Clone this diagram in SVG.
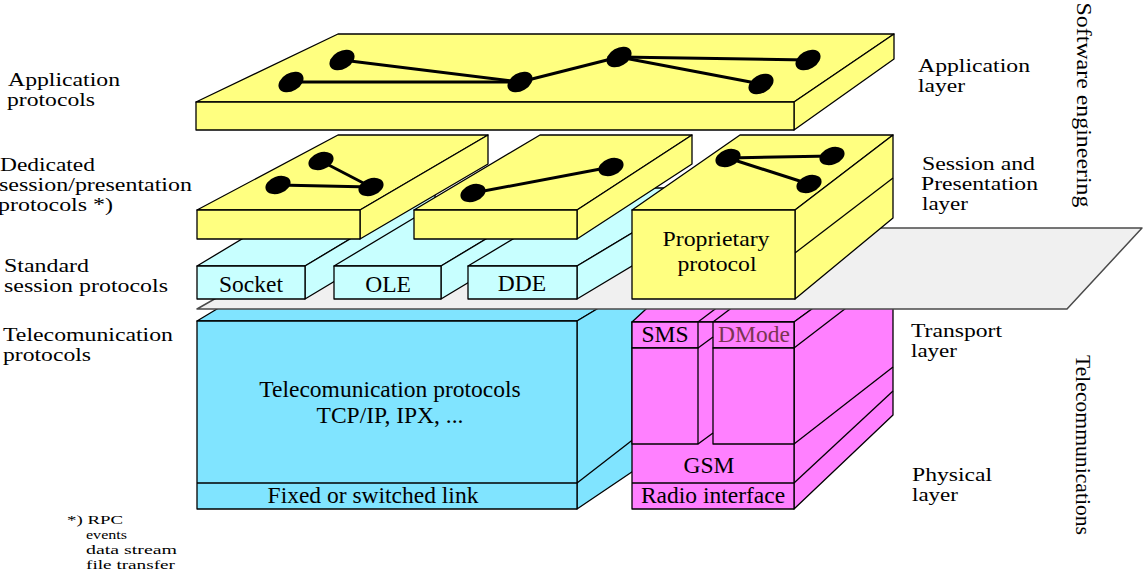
<svg xmlns="http://www.w3.org/2000/svg" width="1145" height="574" viewBox="0 0 1145 574">
<style>
.t{font-family:"Liberation Serif","Times New Roman",serif;fill:#000}
.box{font-size:23.5px;text-anchor:middle}
.prop{font-size:22px;text-anchor:middle}
.lbl{font-size:18px}
.fn{font-size:13.5px}
.vert{font-size:22px;text-anchor:middle}
.e{stroke:#000;stroke-width:1.3;stroke-linejoin:round}
.y{fill:#FFFF80}
.c{fill:#C8FFFF}
.b{fill:#80E4FF}
.m{fill:#FF80FF}
.g{fill:#F0F0F0;stroke:#4a4a4a;stroke-width:1.5;stroke-linejoin:round}
.ln{stroke:#000;stroke-width:1.3;fill:none}
.link{stroke:#000;stroke-width:3;fill:none}
.dot{fill:#000}
</style>
<rect width="1145" height="574" fill="#fff"/>

<g id="telecom-box">
  <polygon class="b e" points="197,321 317,249 697,249 577,321"/>
  <polygon class="b e" points="577,321 697,249 697,428 577,509"/>
  <rect class="b e" x="197" y="321" width="380" height="188"/>
  <line class="ln" x1="197" y1="483" x2="577" y2="483"/>
  <line class="ln" x1="577" y1="483" x2="697" y2="390"/>
  <text class="t box" x="390" y="397">Telecomunication protocols</text>
  <text class="t box" x="390" y="423">TCP/IP, IPX, ...</text>
  <text class="t box" x="373" y="503">Fixed or switched link</text>
</g>

<g id="gsm-box">
  <polygon class="m e" points="632,322 710,250 893,250 794,322"/>
  <line class="ln" x1="698" y1="322" x2="760" y2="275"/>
  <line class="ln" x1="713" y1="322" x2="775" y2="275"/>
  <polygon class="m e" points="794,322 893,250 893,415 794,509"/>
  <line class="ln" x1="794" y1="348" x2="893" y2="272"/>
  <line class="ln" x1="794" y1="444" x2="893" y2="367"/>
  <line class="ln" x1="794" y1="483" x2="893" y2="391"/>
  <rect class="m e" x="632" y="322" width="162" height="187"/>
  <rect class="m e" x="632" y="322" width="66" height="26"/>
  <rect class="m e" x="632" y="348" width="66" height="96"/>
  <rect class="m e" x="713" y="322" width="81" height="26"/>
  <rect class="m e" x="713" y="348" width="81" height="96"/>
  <line class="ln" x1="698" y1="348" x2="713" y2="337"/>
  <line class="ln" x1="698" y1="444" x2="713" y2="433"/>
  <line class="ln" x1="632" y1="483" x2="794" y2="483"/>
  <text class="t box" x="665" y="342">SMS</text>
  <text class="t box" x="754" y="342" style="fill:#7a3452">DMode</text>
  <text class="t box" x="709" y="473">GSM</text>
  <text class="t box" x="713" y="503">Radio interface</text>
</g>

<g id="grey-plane">
  <polygon class="g" points="197,309 339,228 1142,228 1067,309"/>
</g>

<g id="socket">
  <polygon class="c e" points="197,266 327,188 435,188 305,266"/>
  <polygon class="c e" points="305,266 435,188 435,221 305,299"/>
  <rect class="c e" x="197" y="266" width="108" height="33"/>
  <text class="t box" x="251" y="292">Socket</text>
</g>
<g id="ole">
  <polygon class="c e" points="334,266 464,188 571,188 441,266"/>
  <polygon class="c e" points="441,266 571,188 571,221 441,299"/>
  <rect class="c e" x="334" y="266" width="107" height="33"/>
  <text class="t box" x="388" y="292">OLE</text>
</g>
<g id="dde">
  <polygon class="c e" points="468,266 598,188 707,188 577,266"/>
  <polygon class="c e" points="577,266 707,188 707,221 577,299"/>
  <rect class="c e" x="468" y="266" width="109" height="33"/>
  <text class="t box" x="522" y="291">DDE</text>
</g>

<g id="application-slab">
  <polygon class="y e" points="196,102 338,34 894,34 794,102"/>
  <polygon class="y e" points="794,102 894,34 894,59 794,130"/>
  <rect class="y e" x="196" y="102" width="598" height="28"/>
</g>
<g id="dedicated-slab-1">
  <polygon class="y e" points="197,210 338,135 488,135 360,210"/>
  <polygon class="y e" points="360,210 488,135 488,164 360,239"/>
  <rect class="y e" x="197" y="210" width="163" height="29"/>
</g>
<g id="dedicated-slab-2">
  <polygon class="y e" points="414,210 540,135 692,135 577,210"/>
  <polygon class="y e" points="577,210 692,135 692,164 577,239"/>
  <rect class="y e" x="414" y="210" width="163" height="29"/>
</g>
<g id="proprietary">
  <polygon class="y e" points="632,210 740,135 893,135 795,210"/>
  <polygon class="y e" points="795,210 893,135 893,218 795,299"/>
  <line class="ln" x1="795" y1="253" x2="893" y2="178"/>
  <rect class="y e" x="632" y="210" width="163" height="89"/>
  <text class="t prop" x="716" y="246" textLength="107" lengthAdjust="spacingAndGlyphs">Proprietary</text>
  <text class="t prop" x="717" y="271" textLength="79" lengthAdjust="spacingAndGlyphs">protocol</text>
</g>

<g id="connectors">
  <line class="link" x1="342" y1="60" x2="520" y2="82"/>
  <line class="link" x1="291" y1="82" x2="520" y2="82"/>
  <line class="link" x1="520" y1="82" x2="619" y2="57"/>
  <line class="link" x1="619" y1="57" x2="808" y2="60"/>
  <line class="link" x1="619" y1="57" x2="761" y2="84"/>
  <line class="link" x1="321" y1="161" x2="371" y2="187"/>
  <line class="link" x1="278" y1="185" x2="371" y2="187"/>
  <line class="link" x1="473" y1="193" x2="611" y2="167"/>
  <line class="link" x1="728" y1="158" x2="832" y2="156"/>
  <line class="link" x1="728" y1="158" x2="809" y2="184"/>
</g>

<g id="dots">
  <ellipse class="dot" cx="342" cy="60" rx="13.5" ry="9" transform="rotate(-30 342 60)"/>
  <ellipse class="dot" cx="291" cy="82" rx="13.5" ry="9" transform="rotate(-30 291 82)"/>
  <ellipse class="dot" cx="520" cy="82" rx="13.5" ry="9" transform="rotate(-30 520 82)"/>
  <ellipse class="dot" cx="619" cy="57" rx="13.5" ry="9" transform="rotate(-30 619 57)"/>
  <ellipse class="dot" cx="808" cy="60" rx="13.5" ry="9" transform="rotate(-30 808 60)"/>
  <ellipse class="dot" cx="761" cy="84" rx="13.5" ry="9" transform="rotate(-30 761 84)"/>
  <ellipse class="dot" cx="321" cy="161" rx="13" ry="8.5" transform="rotate(-20 321 161)"/>
  <ellipse class="dot" cx="278" cy="185" rx="13" ry="8.5" transform="rotate(-20 278 185)"/>
  <ellipse class="dot" cx="371" cy="187" rx="13" ry="8.5" transform="rotate(-20 371 187)"/>
  <ellipse class="dot" cx="473" cy="193" rx="13" ry="8.5" transform="rotate(-20 473 193)"/>
  <ellipse class="dot" cx="611" cy="167" rx="13" ry="8.5" transform="rotate(-20 611 167)"/>
  <ellipse class="dot" cx="728" cy="158" rx="13" ry="8.5" transform="rotate(-20 728 158)"/>
  <ellipse class="dot" cx="832" cy="156" rx="13" ry="8.5" transform="rotate(-20 832 156)"/>
  <ellipse class="dot" cx="809" cy="184" rx="13" ry="8.5" transform="rotate(-20 809 184)"/>
</g>

<g id="left-labels">
  <text class="t lbl" x="8" y="86" textLength="112" lengthAdjust="spacingAndGlyphs">Application</text>
  <text class="t lbl" x="7" y="106" textLength="88" lengthAdjust="spacingAndGlyphs">protocols</text>
  <text class="t lbl" x="0" y="171" textLength="95" lengthAdjust="spacingAndGlyphs">Dedicated</text>
  <text class="t lbl" x="-1" y="191" textLength="193" lengthAdjust="spacingAndGlyphs">session/presentation</text>
  <text class="t lbl" x="-2" y="211" textLength="115" lengthAdjust="spacingAndGlyphs">protocols *)</text>
  <text class="t lbl" x="4" y="272" textLength="85" lengthAdjust="spacingAndGlyphs">Standard</text>
  <text class="t lbl" x="4" y="292" textLength="164" lengthAdjust="spacingAndGlyphs">session protocols</text>
  <text class="t lbl" x="3" y="341" textLength="170" lengthAdjust="spacingAndGlyphs">Telecomunication</text>
  <text class="t lbl" x="3" y="361" textLength="88" lengthAdjust="spacingAndGlyphs">protocols</text>
</g>

<g id="right-labels">
  <text class="t lbl" x="918" y="72" textLength="112" lengthAdjust="spacingAndGlyphs">Application</text>
  <text class="t lbl" x="918" y="92" textLength="47" lengthAdjust="spacingAndGlyphs">layer</text>
  <text class="t lbl" x="922" y="170" textLength="113" lengthAdjust="spacingAndGlyphs">Session and</text>
  <text class="t lbl" x="921" y="190" textLength="117" lengthAdjust="spacingAndGlyphs">Presentation</text>
  <text class="t lbl" x="922" y="210" textLength="46" lengthAdjust="spacingAndGlyphs">layer</text>
  <text class="t lbl" x="911" y="337" textLength="91" lengthAdjust="spacingAndGlyphs">Transport</text>
  <text class="t lbl" x="911" y="357" textLength="46" lengthAdjust="spacingAndGlyphs">layer</text>
  <text class="t lbl" x="912" y="481" textLength="80" lengthAdjust="spacingAndGlyphs">Physical</text>
  <text class="t lbl" x="912" y="501" textLength="46" lengthAdjust="spacingAndGlyphs">layer</text>
  <text class="t vert" transform="translate(1077,105) rotate(90)" textLength="205" lengthAdjust="spacingAndGlyphs">Software engineering</text>
  <text class="t vert" transform="translate(1076,445) rotate(90)" textLength="180" lengthAdjust="spacingAndGlyphs">Telecommunications</text>
</g>

<g id="footnote">
  <text class="t fn" x="67" y="524" textLength="56" lengthAdjust="spacingAndGlyphs">*) RPC</text>
  <text class="t fn" x="86" y="539" textLength="41" lengthAdjust="spacingAndGlyphs">events</text>
  <text class="t fn" x="86" y="554" textLength="91" lengthAdjust="spacingAndGlyphs">data stream</text>
  <text class="t fn" x="86" y="569" textLength="89" lengthAdjust="spacingAndGlyphs">file transfer</text>
</g>
</svg>
